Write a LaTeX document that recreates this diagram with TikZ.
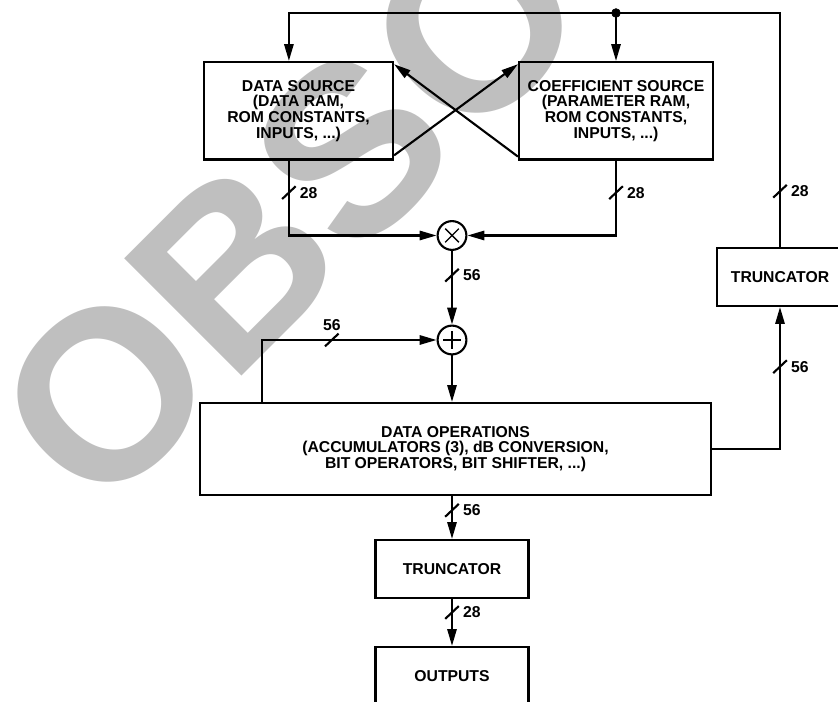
\documentclass[tikz,border=0pt]{standalone}
\usepackage{fontspec}
\setmainfont{Liberation Sans}
\usepackage{tikz}
\usetikzlibrary{arrows.meta,positioning,calc}

\tikzset{
  blk/.style={draw, line width=1.5pt, align=center, inner sep=0pt,
    font=\fontsize{11.2}{11.2}\selectfont\bfseries},
  opcirc/.style={draw, circle, line width=1.5pt, minimum size=0.72cm, inner sep=0pt},
  wire/.style={line width=1.5pt},
  link/.style={wire, -{Triangle[length=0.42cm,width=0.23cm]}},
  lbl/.style={inner sep=0pt, font=\fontsize{11.2}{11.2}\selectfont\bfseries},
  wmark/.style={inner sep=0pt, rotate=45, anchor=base west, text=black!25,
    font=\fontsize{171.5}{171.5}\selectfont\bfseries}
}
% slash on a bus line, with its width
\newcommand{\busmark}[3]{%
  \draw[wire] ($(#1)+(-0.17,-0.16)$) -- ($(#1)+(0.17,0.16)$);
  \node[lbl, #3] (#1-lbl) {#2};}

\begin{document}
\begin{tikzpicture}
\useasboundingbox (0,0) rectangle (20.95,17.55);

\node[wmark] (wm) at (2.45,4.55) {OBSO};

% blocks
\node[blk, minimum width=4.725cm, minimum height=2.4375cm] (ds) at (7.4625,14.78) {DATA SOURCE\\(DATA RAM,\\ROM CONSTANTS,\\INPUTS, ...)};
\node[blk, minimum width=4.85cm, minimum height=2.4375cm] (cs) at (15.4,14.78) {COEFFICIENT SOURCE\\(PARAMETER RAM,\\ROM CONSTANTS,\\INPUTS, ...)};
\node[opcirc] (mul) at (11.3,11.6625) {};
\node[opcirc] (add) at (11.3,9.05) {};
\node[blk, minimum width=12.775cm, minimum height=2.3cm] (dop) at (11.3875,6.325) {DATA OPERATIONS\\(ACCUMULATORS (3), dB CONVERSION,\\BIT OPERATORS, BIT SHIFTER, ...)};
\node[blk, minimum width=3.15cm, minimum height=1.45cm] (trr) at (19.5,10.625) {TRUNCATOR};
\node[blk, minimum width=3.825cm, minimum height=1.45cm] (trb) at (11.3,3.325) {TRUNCATOR};
\node[blk, minimum width=3.825cm, minimum height=1.45cm] (out) at (11.3,0.65) {OUTPUTS};

\draw[wire, line width=1pt] ($(mul)+(-0.17,-0.17)$) -- ($(mul)+(0.17,0.17)$) ($(mul)+(-0.17,0.17)$) -- ($(mul)+(0.17,-0.17)$);
\draw[wire, line width=1.1pt] ($(add)+(-0.225,0)$) -- ($(add)+(0.225,0)$) ($(add)+(0,-0.225)$) -- ($(add)+(0,0.225)$);

% feedback from the right truncator
\coordinate (top) at (15.4,17.225);
\draw[link] (trr.north) |- coordinate[pos=0.119] (b6) (top) -| ([xshift=-0.24cm]ds.north);
\draw[link] (top) -- (cs.north);
\filldraw (top) circle (0.11);

\draw[link] ([yshift=0.13cm]ds.south east) -- ([yshift=-0.08cm]cs.north west);
\draw[link] ([yshift=0.1cm]cs.south west) -- ([yshift=-0.08cm]ds.north east);

\draw[link] ([xshift=-0.24cm]ds.south) |- coordinate[pos=0.214] (b1) (mul.west);
\draw[link] (cs.south) |- coordinate[pos=0.214] (b2) (mul.east);
\draw[link] (mul) -- coordinate[pos=0.33] (b3) (add);
\draw[link] (add) -- (add |- dop.north);
\draw[link] ([xshift=1.575cm]dop.north west) |- coordinate[pos=0.7] (b4) (add.west);
\draw[link] (dop.east) -| coordinate[pos=0.79] (b5) (trr.south);
\draw[link] (trb.north |- dop.south) -- coordinate[pos=0.333] (b7) (trb.north);
\draw[link] (trb) -- coordinate[pos=0.286] (b8) (out);

\busmark{b1}{28}{right=0.27cm of b1}
\busmark{b2}{28}{right=0.27cm of b2}
\busmark{b3}{56}{right=0.27cm of b3}
\busmark{b4}{56}{above=0.22cm of b4}
\busmark{b5}{56}{right=0.27cm of b5}
\busmark{b6}{28}{right=0.27cm of b6}
\busmark{b7}{56}{right=0.27cm of b7}
\busmark{b8}{28}{right=0.27cm of b8}
\end{tikzpicture}
\end{document}
